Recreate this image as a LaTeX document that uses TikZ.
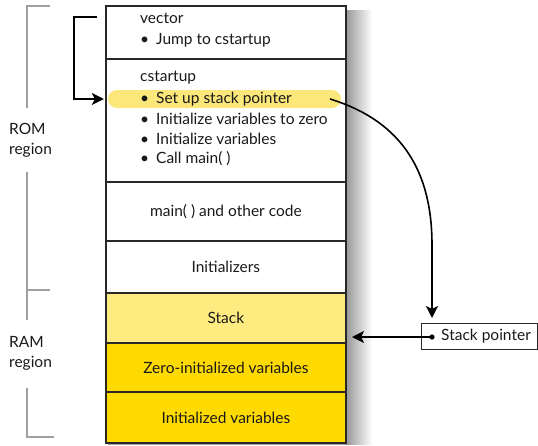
\documentclass[tikz,border=0pt]{standalone}
\usepackage{fontspec}
\setmainfont{Lato}
\usetikzlibrary{arrows.meta,shapes.misc}
\definecolor{paleY}{RGB}{255,236,128}
\definecolor{goldY}{RGB}{255,218,0}
\definecolor{hiY}{RGB}{252,232,122}
\definecolor{brk}{RGB}{160,160,160}
\definecolor{edge}{RGB}{40,40,40}
\begin{document}
\begin{tikzpicture}[x=1pt,y=-1pt,
  every node/.style={font=\fontsize{15.5}{20}\selectfont, text=black!90},
  sect/.style={draw=edge, line width=1.8pt, minimum width=240pt, inner sep=0pt, anchor=north west},
  lbl/.style={anchor=west, inner sep=0pt},
  brack/.style={draw=brk, line width=2.6pt},
  arr/.style={draw=black, line width=1.6pt, -{Stealth[length=12pt,width=12pt,inset=3pt]}}]
\useasboundingbox (0,0) rectangle (538,445);
% shadow
\shade[left color=gray!85, right color=white] (345,10) rectangle (372,444);
\fill[gray!70] (108,442) rectangle (345,445);
% sections
\node[sect, minimum height=53pt, fill=white] (vec) at (105,5) {};
\node[sect, minimum height=123pt, fill=white] (cst) at (105,58) {};
\node[sect, minimum height=59pt, fill=white] (mainc) at (105,181) {main( ) and other code};
\node[sect, minimum height=52pt, fill=white] (inits) at (105,240) {Initializers};
\node[sect, minimum height=50pt, fill=paleY] (stack) at (105,292) {Stack};
\node[sect, minimum height=49pt, fill=goldY] (zero) at (105,342) {Zero-initialized variables};
\node[sect, minimum height=51pt, fill=goldY] (initv) at (105,391) {Initialized variables};
% highlight
\node[rounded rectangle, fill=hiY, minimum width=233pt, minimum height=18pt, inner sep=0pt] (hl) at (224.5,99) {};
% texts
\node[lbl] (tvec) at (140,18) {vector};
\node[lbl] (tjump) at (140,40) {\textbullet\hspace{7pt}Jump to cstartup};
\node[lbl] (tcst) at (140,78) {cstartup};
\node[lbl] (b1) at (140,99) {\textbullet\hspace{7pt}Set up stack pointer};
\node[lbl] (b2) at (140,119) {\textbullet\hspace{7pt}Initialize variables to zero};
\node[lbl] (b3) at (140,139) {\textbullet\hspace{7pt}Initialize variables};
\node[lbl] (b4) at (140,159) {\textbullet\hspace{7pt}Call main( )};
% brackets
\draw[brack] (50,6) -- (27,6) -- (27,108);
\draw[brack] (27,172) -- (27,320);
\draw[brack] (27,290) -- (50,290);
\draw[brack] (27,388) -- (27,437) -- (54,437);
\node[lbl, align=left] (rom) at (9,140) {ROM\\region};
\node[lbl, align=left] (ram) at (9,353) {RAM\\region};
% vector arrow
\coordinate (vout) at (97,17);
\draw[arr, shorten >=4pt] (vout) -- (74,17) |- (hl.west);
% stack pointer box
\node[draw=edge, line width=1pt, minimum width=116pt, minimum height=26pt, inner sep=0pt, anchor=north west] (sp) at (421,323) {};
\node[lbl] (sptxt) at (441,336) {Stack pointer};
\fill (432,337) circle (2.6pt) coordinate (spd);
\coordinate (sptip) at (352,337);
\draw[arr] (spd) -- (sptip);
% curved arrow
\coordinate (c1) at (330,99);
\draw[arr, shorten >=5pt] (c1) .. controls (405,122) and (432,175) .. (432,245) -- (sp.north -| spd);
\end{tikzpicture}
\end{document}
